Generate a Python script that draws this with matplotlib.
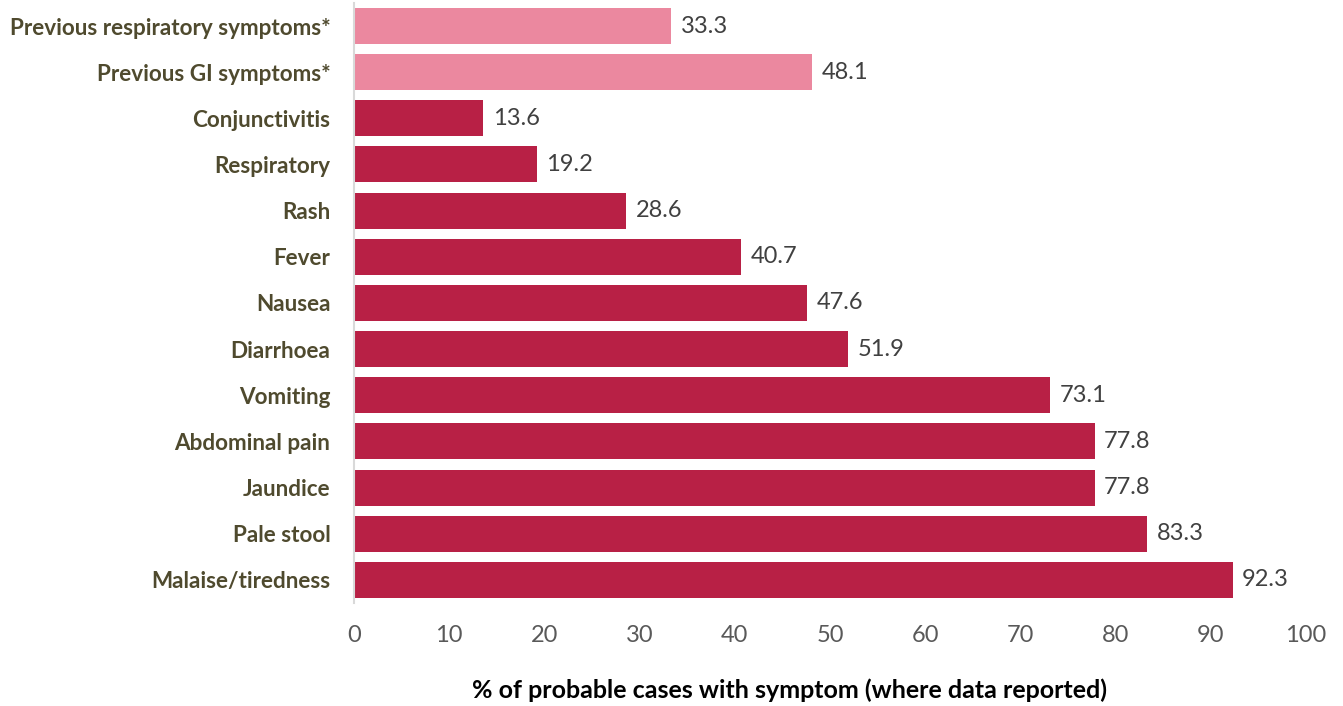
import numpy as np
import matplotlib.pyplot as plt

plt.rcParams['font.family'] = ['Lato', 'DejaVu Sans']

symptoms = ['Previous respiratory symptoms*', 'Previous GI symptoms*', 'Conjunctivitis',
            'Respiratory', 'Rash', 'Fever', 'Nausea', 'Diarrhoea', 'Vomiting',
            'Abdominal pain', 'Jaundice', 'Pale stool', 'Malaise/tiredness']
percent = [33.3, 48.1, 13.6, 19.2, 28.6, 40.7, 47.6, 51.9, 73.1, 77.8, 77.8, 83.3, 92.3]
previous = [True, True] + [False] * 11

colors = ['#EB889F' if p else '#B82045' for p in previous]

fig = plt.figure(figsize=(13.43, 7.06), dpi=100)
ax = fig.add_axes([0.2636, 0.146, 0.7088, 0.8498])

y = np.arange(len(symptoms))
bars = ax.barh(y, percent, height=0.78, color=colors)
ax.set_ylim(len(symptoms) - 0.5, -0.5)
ax.set_xlim(0, 100)
ax.set_xticks(np.arange(0, 101, 10))

for yi, v in zip(y, percent):
    ax.text(v + 1.0, yi, f'{v:.1f}', va='center', ha='left', fontsize=17, color='#404040')

ax.set_yticks(y)
ax.set_yticklabels(symptoms, fontsize=16.2, fontweight='bold', color='#4F4A2E')
ax.tick_params(axis='y', length=0, pad=17)
ax.tick_params(axis='x', length=0, pad=16, labelsize=17, labelcolor='#595959')

for s in ['top', 'right', 'bottom']:
    ax.spines[s].set_visible(False)
ax.spines['left'].set_color('#D9D9D9')
ax.spines['left'].set_linewidth(1.5)

fig.text(789 / 1343, 1 - 690 / 706, '% of probable cases with symptom (where data reported)',
         ha='center', va='center', fontsize=18, fontweight='bold', color='black')

fig.savefig('out.png', dpi=100)
